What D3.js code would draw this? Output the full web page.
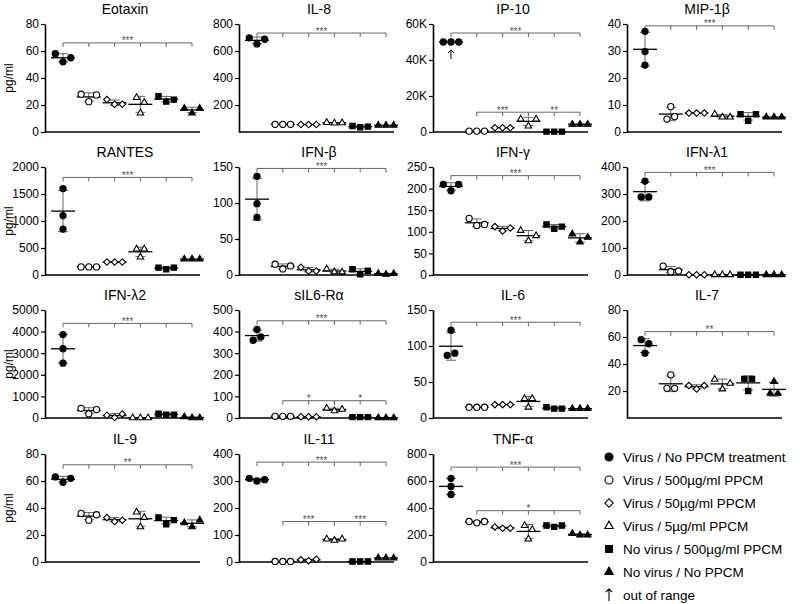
<!DOCTYPE html>
<html>
<head>
<meta charset="utf-8">
<script src="https://cdn.jsdelivr.net/npm/d3@7"></script>
<style>
  body { margin: 0; background: #fff; }
  text { font-family: "Liberation Sans", Arial, sans-serif; }
</style>
</head>
<body>
<div id="chart"></div>
<script>
// groups (same order in every panel)
var groupNames = ["Virus / No PPCM treatment", "Virus / 500\u00b5g/ml PPCM", "Virus / 50\u00b5g/ml PPCM",
                  "Virus / 5\u00b5g/ml PPCM", "No virus / 500\u00b5g/ml PPCM", "No virus / No PPCM"];

var titles = ["Eotaxin", "IL-8", "IP-10", "MIP-1\u03b2",
              "RANTES", "IFN-\u03b2", "IFN-\u03b3", "IFN-\u03bb1",
              "IFN-\u03bb2", "sIL6-R\u03b1", "IL-6", "IL-7",
              "IL-9", "IL-11", "TNF-\u03b1"];

var yMax = [80, 800, 60000, 40, 2000, 150, 250, 400, 5000, 500, 150, 80, 80, 400, 800];

var yTicks = [
  [0, 20, 40, 60, 80], [200, 400, 600, 800], [0, 20000, 40000, 60000], [0, 10, 20, 30, 40],
  [0, 500, 1000, 1500, 2000], [0, 50, 100, 150], [0, 50, 100, 150, 200, 250], [0, 100, 200, 300, 400],
  [0, 1000, 2000, 3000, 4000, 5000], [0, 100, 200, 300, 400, 500], [0, 50, 100, 150], [20, 40, 60, 80],
  [0, 20, 40, 60, 80], [0, 100, 200, 300, 400], [0, 200, 400, 600, 800]
];

// three replicates per group, pg/ml
var eotaxin = [[58, 52, 55], [28, 22.5, 27.5], [24, 20.5, 20.5], [25.5, 14, 22], [26.5, 22.5, 24], [17.5, 14, 17.5]];
var il8     = [[698, 652, 687], [57, 57, 57], [55, 55, 55], [70, 66, 68], [44, 35, 40], [50, 50, 50]];
var ip10    = [[50000, 50000, 50000], [500, 500, 500], [2400, 2400, 2400], [7200, 3300, 7200], [200, 200, 200], [4300, 4300, 4300]];
var mip1b   = [[37.3, 29.8, 24.8], [9.4, 4.8, 5.7], [7, 7, 7], [6.6, 5.5, 5.5], [6.6, 4.2, 6.6], [5.5, 5.5, 5.5]];
var rantes  = [[1600, 1100, 850], [150, 150, 150], [240, 240, 240], [480, 330, 480], [137, 106, 137], [293, 293, 293]];
var ifnb    = [[137, 99, 80], [15, 8.4, 12.6], [10.8, 5.6, 5.6], [8.4, 4.2, 4.2], [8, 1, 6], [2, 1, 2]];
var ifng    = [[210, 195, 210], [131, 114.5, 117], [112, 102, 109], [103, 79, 91], [117, 107, 112], [95, 76, 87]];
var ifnl1   = [[348, 289, 289], [33, 12, 15], [1, 1, 1], [1, 1, 1], [1, 1, 1], [1, 1, 1]];
var ifnl2   = [[3864, 3210, 2540], [450, 200, 390], [130, 20, 190], [10, 10, 10], [200, 150, 150], [50, 10, 10]];
var sil6ra  = [[410, 360, 375], [8, 8, 8], [6, 6, 6], [45, 33, 40], [4, 4, 4], [1, 1, 1]];
var il6     = [[122, 87, 90], [15, 15, 15], [18.6, 18.6, 18.6], [27, 15, 27], [15, 13, 13], [13, 13, 13]];
var il7     = [[58, 48, 55], [32, 22, 22], [24, 21.5, 24], [28.6, 21.5, 25.7], [29, 20, 29], [27, 18.3, 18.3]];
var il9     = [[63, 59, 62], [36, 31, 35], [33, 30, 31], [37, 26, 33], [33, 28, 31], [29, 26, 31]];
var il11    = [[310, 300, 305], [2, 2, 2], [8, 5, 10], [85, 80, 85], [2, 2, 2], [15, 15, 15]];
var tnfa    = [[620, 500, 560], [300, 290, 300], [260, 250, 250], [270, 170, 240], [270, 260, 270], [210, 200, 200]];

var panelData = [eotaxin, il8, ip10, mip1b, rantes, ifnb, ifng, ifnl1, ifnl2, sil6ra, il6, il7, il9, il11, tnfa];

// significance: bracket over all groups
var bracketLevel = [66, 733, 55000, 39.3, 1807, 148, 230, 380, 4380, 450, 133, 64, 72, 370, 703];
var bracketStars = ["***", "***", "***", "***", "***", "***", "***", "***", "***", "***", "***", "**", "**", "***", "***"];
// extra brackets: [panel, first group, last group, level, stars]
var subBrackets = [
  [2, 1, 3, 11000, "***"], [2, 3, 5, 11000, "**"],
  [9, 1, 3, 80, "*"], [9, 3, 5, 80, "*"],
  [13, 1, 3, 150, "***"], [13, 3, 5, 150, "***"],
  [14, 1, 5, 380, "*"]
];
// [panel, group] shown with an out-of-range arrow
var outOfRange = [[2, 0]];

var symbolTypes = [d3.symbolCircle, d3.symbolCircle, d3.symbolSquare, d3.symbolTriangle, d3.symbolSquare, d3.symbolTriangle];
var symbolScale = [1, 1, 0.7, 0.62, 0.95, 0.62];
var symbolRotate = [0, 0, 45, 0, 0, 0];
var symbolFilled = [true, false, false, false, true, true];

var svg = d3.select("#chart").append("svg").attr("width", 800).attr("height", 604);

var colX = [45, 239, 433, 627];
var rowBase = [132, 275, 418, 562];
var plotW = 155, plotH = 108;
var grey = "#666";

function fmt(p) {
  if (p == 2) return function(d) { return d == 0 ? "0" : (d / 1000) + "K"; };
  return d3.format("d");
}

function drawSymbol(sel, g, cx, cy, size) {
  var ang = symbolRotate[g];
  sel.append("path")
    .attr("d", d3.symbol().type(symbolTypes[g]).size(size * symbolScale[g])())
    .attr("transform", "translate(" + cx + "," + cy + ")" + (ang ? " rotate(" + ang + ")" : ""))
    .attr("fill", symbolFilled[g] ? "#000" : "#fff")
    .attr("stroke", "#000")
    .attr("stroke-width", 1.1);
}

// spread overlapping points sideways
function spread(vals, y) {
  var idx = vals.map(function(v, i) { return i; }).sort(function(a, b) { return y(vals[b]) - y(vals[a]); });
  var clusters = [], cur = [idx[0]];
  for (var i = 1; i < idx.length; i++) {
    if (Math.abs(y(vals[idx[i]]) - y(vals[idx[i - 1]])) < 7.5) cur.push(idx[i]);
    else { clusters.push(cur); cur = [idx[i]]; }
  }
  clusters.push(cur);
  var off = vals.map(function() { return 0; });
  clusters.forEach(function(c) {
    c.sort(function(a, b) { return a - b; });
    c.forEach(function(k, j) { off[k] = (j - (c.length - 1) / 2) * 7.7; });
  });
  return off;
}

function bracket(g, x, y, a, b, level, stars) {
  var yy = y(level);
  g.append("line").attr("x1", x(a)).attr("x2", x(b)).attr("y1", yy).attr("y2", yy)
    .attr("stroke", grey).attr("stroke-width", 1);
  d3.range(a, b + 1).forEach(function(k) {
    g.append("line").attr("x1", x(k)).attr("x2", x(k)).attr("y1", yy).attr("y2", yy + 4)
      .attr("stroke", grey).attr("stroke-width", 1);
  });
  g.append("text").attr("x", (x(a) + x(b)) / 2).attr("y", yy + 1.5)
    .attr("text-anchor", "middle").attr("font-size", 10).attr("fill", "#555").text(stars);
}

panelData.forEach(function(data, p) {
  var col = p % 4, row = Math.floor(p / 4);
  var x0 = colX[col], base = rowBase[row];
  var y = d3.scaleLinear().domain([0, yMax[p]]).range([base, base - plotH]);
  var x = d3.scaleLinear().domain([0, 5]).range([x0 + 18, x0 + 147]);
  var g = svg.append("g");

  var ax = g.append("g").attr("transform", "translate(" + x0 + ",0)")
    .call(d3.axisLeft(y).tickValues(yTicks[p]).tickSize(4).tickSizeOuter(0).tickPadding(2).tickFormat(fmt(p)));
  ax.select(".domain").attr("stroke-width", 1.6);
  ax.selectAll(".tick line").attr("stroke-width", 1.2);
  ax.selectAll("text").attr("font-size", 12).attr("font-family", "Liberation Sans, Arial, sans-serif").attr("fill", "#000");

  g.append("line").attr("x1", x0).attr("x2", x0 + plotW).attr("y1", base).attr("y2", base)
    .attr("stroke", "#000").attr("stroke-width", 1.6);

  g.append("text").attr("x", x0 + 80).attr("y", base - plotH - 10)
    .attr("text-anchor", "middle").attr("font-size", 14).text(titles[p]);

  if (col == 0) {
    g.append("text").attr("transform", "translate(13," + (base - plotH / 2) + ") rotate(-90)")
      .attr("text-anchor", "middle").attr("font-size", 12).text("pg/ml");
  }

  bracket(g, x, y, 0, 5, bracketLevel[p], bracketStars[p]);
  subBrackets.filter(function(s) { return s[0] == p; }).forEach(function(s) {
    bracket(g, x, y, s[1], s[2], s[3], s[4]);
  });

  data.forEach(function(vals, k) {
    var m = d3.mean(vals), sd = d3.deviation(vals) || 0;
    var cx = x(k);
    if (sd > 0) {
      g.append("line").attr("x1", cx).attr("x2", cx).attr("y1", y(m - sd)).attr("y2", y(m + sd))
        .attr("stroke", grey).attr("stroke-width", 1);
      [m - sd, m + sd].forEach(function(v) {
        g.append("line").attr("x1", cx - 5).attr("x2", cx + 5).attr("y1", y(v)).attr("y2", y(v))
          .attr("stroke", grey).attr("stroke-width", 1);
      });
    }
    g.append("line").attr("x1", cx - 12).attr("x2", cx + 12).attr("y1", y(m)).attr("y2", y(m))
      .attr("stroke", "#000").attr("stroke-width", 1.3);
    var off = spread(vals, y);
    vals.forEach(function(v, i) { drawSymbol(g, k, cx + off[i], y(v), 30); });
  });

  outOfRange.filter(function(o) { return o[0] == p; }).forEach(function(o) {
    var cx = x(o[1]), py = y(d3.mean(data[o[1]]));
    g.append("path")
      .attr("d", "M" + cx + "," + (py + 17) + "V" + (py + 8) + "M" + (cx - 3) + "," + (py + 11) + "L" + cx + "," + (py + 8) + "L" + (cx + 3) + "," + (py + 11))
      .attr("fill", "none").attr("stroke", "#000").attr("stroke-width", 1);
  });
});

// legend
var leg = svg.append("g");
groupNames.forEach(function(name, k) {
  var ly = 457 + k * 23;
  drawSymbol(leg, k, 609, ly, 50);
  leg.append("text").attr("x", 623).attr("y", ly + 4.5).attr("font-size", 13.5).text(name);
});
var ay = 457 + 6 * 23;
leg.append("path")
  .attr("d", "M609," + (ay + 6) + "V" + (ay - 6) + "M606," + (ay - 3) + "L609," + (ay - 6) + "L612," + (ay - 3))
  .attr("fill", "none").attr("stroke", "#000").attr("stroke-width", 1.1);
leg.append("text").attr("x", 623).attr("y", ay + 4.5).attr("font-size", 13.5).text("out of range");
</script>
</body>
</html>
